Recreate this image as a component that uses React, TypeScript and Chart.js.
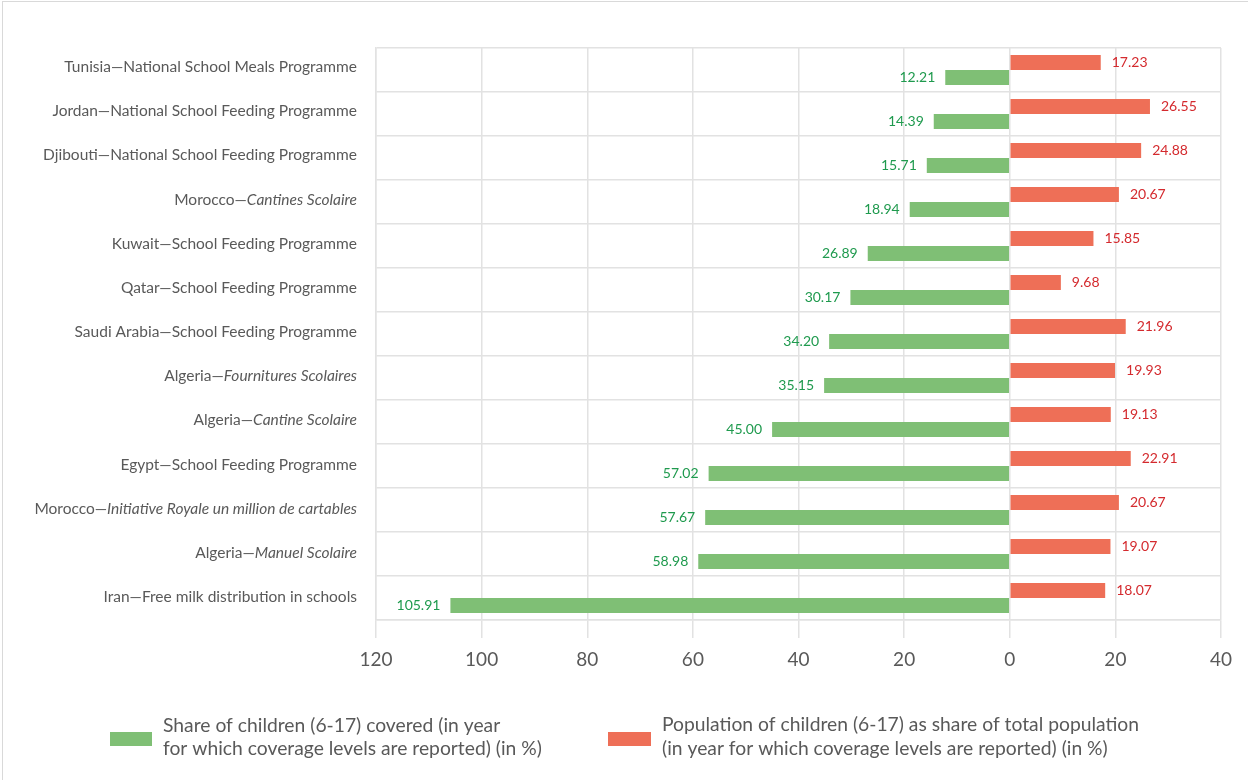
import React, { useEffect, useRef } from "react";
import { Chart, registerables } from "chart.js";

Chart.register(...registerables);

const countries = [
  "Tunisia", "Jordan", "Djibouti", "Morocco", "Kuwait", "Qatar", "Saudi Arabia",
  "Algeria", "Algeria", "Egypt", "Morocco", "Algeria", "Iran",
];
const programmes = [
  "National School Meals Programme",
  "National School Feeding Programme",
  "National School Feeding Programme",
  "Cantines Scolaire",
  "School Feeding Programme",
  "School Feeding Programme",
  "School Feeding Programme",
  "Fournitures Scolaires",
  "Cantine Scolaire",
  "School Feeding Programme",
  "Initiative Royale un million de cartables",
  "Manuel Scolaire",
  "Free milk distribution in schools",
];
const programmeItalic = [false, false, false, true, false, false, false, true, true, false, true, true, false];
const coverage = [12.21, 14.39, 15.71, 18.94, 26.89, 30.17, 34.2, 35.15, 45.0, 57.02, 57.67, 58.98, 105.91];
const population = [17.23, 26.55, 24.88, 20.67, 15.85, 9.68, 21.96, 19.93, 19.13, 22.91, 20.67, 19.07, 18.07];
const xMin = -120;
const xMax = 40;
const xStep = 20;
const legendCoverage = [
  "Share of children (6-17) covered (in year",
  "for which coverage levels are reported) (in %)",
];
const legendPopulation = [
  "Population of children (6-17) as share of total population",
  "(in year for which coverage levels are reported) (in %)",
];

const GREEN = "#7fbf75";
const RED = "#ee6f57";
const GREEN_TEXT = "#1f9a4e";
const RED_TEXT = "#d42a2e";
const GREY = "#595959";
const GRID = "#e2e2e2";
const FONT = "Lato, 'Open Sans', sans-serif";

export default function App() {
  const ref = useRef<HTMLCanvasElement | null>(null);

  useEffect(() => {
    if (!ref.current) return;

    const framePlugin = {
      id: "frame",
      beforeDraw(chart: any) {
        const ctx = chart.ctx;
        ctx.save();
        ctx.fillStyle = "#ffffff";
        ctx.fillRect(0, 0, chart.width, chart.height);
        ctx.strokeStyle = "#d9d9d9";
        ctx.lineWidth = 1;
        ctx.strokeRect(2.5, 1.5, chart.width + 20, chart.height + 20);
        ctx.restore();
      },
    };

    const categoryLabels = {
      id: "categoryLabels",
      afterDraw(chart: any) {
        const ctx = chart.ctx;
        const y = chart.scales.y;
        const right = 357;
        ctx.save();
        ctx.fillStyle = GREY;
        ctx.textBaseline = "middle";
        ctx.textAlign = "left";
        countries.forEach((c, i) => {
          const py = y.getPixelForValue(i) - 3 + i * 0.17;
          const progFont = (programmeItalic[i] ? "italic " : "") + "15.5px " + FONT;
          const countryFont = "15.5px " + FONT;
          ctx.font = progFont;
          const wp = ctx.measureText(programmes[i]).width;
          ctx.font = countryFont;
          const head = c + "\u2014";
          const wc = ctx.measureText(head).width;
          ctx.fillText(head, right - wp - wc, py);
          ctx.font = progFont;
          ctx.fillText(programmes[i], right - wp, py);
        });
        ctx.restore();
      },
    };

    const dataLabels = {
      id: "dataLabels",
      afterDatasetsDraw(chart: any) {
        const ctx = chart.ctx;
        ctx.save();
        ctx.font = "14px " + FONT;
        ctx.textBaseline = "middle";
        chart.data.datasets.forEach((ds: any, di: number) => {
          const meta = chart.getDatasetMeta(di);
          meta.data.forEach((el: any, i: number) => {
            const v = ds.data[i];
            const txt = Math.abs(v).toFixed(2);
            if (v >= 0) {
              ctx.fillStyle = RED_TEXT;
              ctx.textAlign = "left";
              ctx.fillText(txt, el.x + 11, el.y - 0.5);
            } else {
              ctx.fillStyle = GREEN_TEXT;
              ctx.textAlign = "right";
              ctx.fillText(txt, el.x - 10, el.y);
            }
          });
        });
        ctx.restore();
      },
    };

    const legendPlugin = {
      id: "customLegend",
      afterDraw(chart: any) {
        const ctx = chart.ctx;
        ctx.save();
        ctx.font = "19.3px " + FONT;
        ctx.textBaseline = "middle";
        ctx.textAlign = "left";
        ctx.fillStyle = GREEN;
        ctx.fillRect(110, 732, 42, 14);
        ctx.fillStyle = GREY;
        ctx.fillText(legendCoverage[0], 163, 726);
        ctx.fillText(legendCoverage[1], 163, 749);
        ctx.fillStyle = RED;
        ctx.fillRect(608, 732, 43, 14);
        ctx.fillStyle = GREY;
        ctx.fillText(legendPopulation[0], 662, 725);
        ctx.fillText(legendPopulation[1], 662, 749);
        ctx.restore();
      },
    };

    const chart = new Chart(ref.current, {
      type: "bar",
      data: {
        labels: countries.map((c, i) => c + "\u2014" + programmes[i]),
        datasets: [
          {
            label: legendPopulation.join(" "),
            data: population,
            backgroundColor: RED,
            categoryPercentage: 0.68,
            barPercentage: 1.0,
          },
          {
            label: legendCoverage.join(" "),
            data: coverage.map((v) => -v),
            backgroundColor: GREEN,
            categoryPercentage: 0.68,
            barPercentage: 1.0,
          },
        ],
      },
      options: {
        indexAxis: "y",
        responsive: false,
        animation: false,
        layout: { padding: { left: 376, right: 27, top: 48, bottom: 0 } },
        plugins: {
          legend: { display: false },
          tooltip: { enabled: false },
          title: { display: false },
        },
        scales: {
          x: {
            type: "linear",
            min: xMin,
            max: xMax,
            ticks: {
              stepSize: xStep,
              color: GREY,
              font: { family: FONT, size: 19 },
              padding: 10,
              callback: (v: any) => String(Math.abs(Number(v))),
            },
            grid: { color: GRID, lineWidth: 1.5, tickLength: 18, drawTicks: true },
            border: { color: GRID, width: 1.5 },
            afterFit: (s: any) => {
              s.height = 160;
            },
          },
          y: {
            type: "category",
            offset: true,
            ticks: { display: false },
            grid: { color: GRID, lineWidth: 1.5, drawTicks: false, offset: true },
            border: { color: GRID, width: 1.5 },
            afterFit: (s: any) => {
              s.width = 0;
            },
          },
        },
      },
      plugins: [framePlugin, categoryLabels, dataLabels, legendPlugin],
    } as any);

    return () => chart.destroy();
  }, []);

  return (
    <div style={{ position: "absolute", left: 0, top: 0, width: 1248, height: 780, background: "#fff" }}>
      <canvas ref={ref} width={1248} height={780} style={{ display: "block" }} />
    </div>
  );
}
